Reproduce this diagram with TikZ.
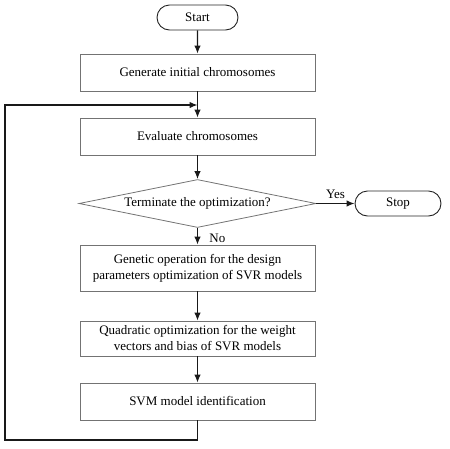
\documentclass[tikz,border=0pt]{standalone}
\usepackage{fontspec}
\setmainfont{Liberation Serif}
\usetikzlibrary{shapes.geometric,shapes.misc,arrows.meta}
\tikzset{
  procbox/.style={draw=black!55, line width=0.8pt, rectangle, minimum width=235pt, minimum height=37pt, align=center, inner sep=0pt},
  termbox/.style={draw=black!85, line width=0.9pt, rounded rectangle, minimum height=25pt, inner sep=0pt},
  decbox/.style={draw=black!55, line width=0.8pt, diamond, aspect=4.9, minimum width=237pt, minimum height=48pt, inner sep=0pt},
  flow/.style={draw=black!90, line width=1.2pt, -{Latex[length=8pt,width=6.5pt]}}
}
\begin{document}
\begin{tikzpicture}[x=1pt,y=-1pt,font=\fontsize{13}{16}\selectfont]
\useasboundingbox (0,0) rectangle (450,448);
% nodes
\node[termbox, minimum width=81pt] (start) at (197.5,17.5) {Start};
\node[procbox] (gen) at (197.5,72.5) {Generate initial chromosomes};
\node[procbox] (eval) at (197.5,136.5) {Evaluate chromosomes};
\node[decbox] (term) at (197.5,203.5) {Terminate the optimization?};
\node[termbox, minimum width=86pt] (stop) at (398,203.5) {Stop};
\node[procbox, minimum height=46pt] (genop) at (197.5,268) {Genetic operation for the design\\parameters optimization of SVR models};
\node[procbox, minimum height=35pt] (quad) at (197.5,338.5) {Quadratic optimization for the weight\\vectors and bias of SVR models};
\node[procbox] (svm) at (197.5,401.5) {SVM model identification};
\coordinate (loopin) at (197.5,105);
\coordinate (loopcorner) at (5,440);
% connectors
\draw[flow] (start) -- (gen);
\draw[flow] (gen) -- (eval);
\draw[flow] (eval) -- (term);
\draw[flow] (term.east) -- node[above, yshift=1pt] {Yes} (stop.west);
\draw[flow] (term.south) -- node[right, xshift=8pt, yshift=-2pt] {No} (genop.north);
\draw[flow] (genop) -- (quad);
\draw[flow] (quad) -- (svm);
\draw[flow] (svm.south) |- (loopcorner) |- (loopin);
\end{tikzpicture}
\end{document}
